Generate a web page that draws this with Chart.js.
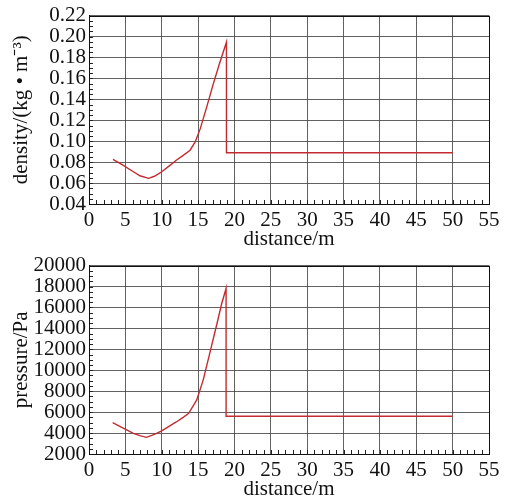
<!DOCTYPE html>
<html>
<head>
<meta charset="utf-8">
<script src="https://cdn.jsdelivr.net/npm/chart.js@4/dist/chart.umd.min.js"></script>
<style>
html,body{margin:0;padding:0;background:#fff;overflow:hidden;width:505px;height:497px;}
#w1{position:absolute;left:0;top:0;width:505px;height:250px;}
#w2{position:absolute;left:0;top:250px;width:505px;height:250px;}
</style>
</head>
<body>
<div id="w1"><canvas id="c1"></canvas></div>
<div id="w2"><canvas id="c2"></canvas></div>
<script>
// ---- data ----
const densityX = [3.3, 4.5, 6.1, 7.0, 8.2, 9.0, 10.0, 11.0, 12.0, 13.0, 13.9, 14.6, 15.3, 16.2, 17.1, 18.0, 18.9, 18.9, 50.0];
const densityY = [0.0826, 0.0778, 0.0708, 0.0670, 0.0645, 0.0665, 0.0708, 0.0762, 0.0818, 0.0867, 0.0914, 0.0993, 0.112, 0.133, 0.155, 0.1755, 0.1946, 0.0889, 0.0889];
const pressureX = [3.26, 4.5, 6.1, 7.0, 7.9, 9.0, 10.0, 11.0, 12.0, 13.0, 13.7, 14.8, 15.7, 16.6, 17.6, 18.25, 18.85, 18.85, 50.0];
const pressureY = [4990, 4550, 3975, 3750, 3590, 3880, 4220, 4640, 5060, 5530, 5880, 7150, 9060, 11610, 14470, 16380, 17810, 5600, 5600];
const xTicks = [0, 5, 10, 15, 20, 25, 30, 35, 40, 45, 50, 55];
const densityTicks = [0.04, 0.06, 0.08, 0.10, 0.12, 0.14, 0.16, 0.18, 0.20, 0.22];
const pressureTicks = [2000, 4000, 6000, 8000, 10000, 12000, 14000, 16000, 18000, 20000];

const FONT = "'Liberation Serif','Times New Roman',serif";
const LINE = '#c42a2f';
const GRID = 'rgba(70,70,70,0.85)';

const frame = {
  id: 'frame',
  afterDraw(chart) {
    const ctx = chart.ctx, a = chart.chartArea;
    const xs = chart.scales.x, ys = chart.scales.y;
    const n = ys.options.ticksList.length - 1;
    ctx.save();
    ctx.strokeStyle = '#222';
    ctx.lineWidth = 1;
    ctx.beginPath();
    for (let v = xs.min; v <= xs.max + 1e-9; v += 1) {
      const px = Math.round(xs.getPixelForValue(v)) + 0.5;
      ctx.moveTo(px, a.bottom);
      ctx.lineTo(px, a.bottom - 4);
    }
    const yStep = (ys.max - ys.min) / (n * 4);
    for (let i = 0; i <= n * 4; i++) {
      const py = Math.round(ys.getPixelForValue(ys.min + i * yStep)) + 0.5;
      ctx.moveTo(a.left, py);
      ctx.lineTo(a.left + 4, py);
    }
    ctx.stroke();
    ctx.strokeStyle = '#111';
    ctx.strokeRect(Math.round(a.left) + 0.5, Math.round(a.top) + 0.5, Math.round(a.right - a.left), Math.round(a.bottom - a.top));
    ctx.restore();
  }
};

function makeChart(id, xs, ys, yTicks, yTitle) {
  const pts = xs.map((x, i) => ({x: x, y: ys[i]}));
  return new Chart(document.getElementById(id), {
    type: 'scatter',
    data: {datasets: [{data: pts, showLine: true, borderColor: LINE, borderWidth: 1.4, pointRadius: 0, tension: 0, fill: false}]},
    options: {
      responsive: true, maintainAspectRatio: false, animation: false,
      layout: {padding: {top: 15, right: 16, left: 0, bottom: 0}},
      plugins: {legend: {display: false}, tooltip: {enabled: false}},
      scales: {
        x: {
          type: 'linear', min: xTicks[0], max: xTicks[xTicks.length - 1],
          afterBuildTicks: s => { s.ticks = xTicks.map(v => ({value: v})); },
          afterFit: s => { s.height = 46; },
          grid: {color: GRID, lineWidth: 1, drawTicks: false},
          border: {display: true, color: '#111'},
          ticks: {color: '#111', font: {family: FONT, size: 21}, padding: 4, maxRotation: 0, autoSkip: false},
          title: {display: true, text: 'distance/m', color: '#111', font: {family: FONT, size: 21, lineHeight: 1.0}, padding: {top: 0, bottom: 0}}
        },
        y: {
          type: 'linear', min: yTicks[0], max: yTicks[yTicks.length - 1],
          ticksList: yTicks,
          afterBuildTicks: s => { s.ticks = yTicks.map(v => ({value: v})); },
          afterFit: s => { s.width = 89; },
          grid: {color: GRID, lineWidth: 1, drawTicks: false},
          border: {display: true, color: '#111'},
          ticks: {color: '#111', font: {family: FONT, size: 21}, padding: 3, autoSkip: false,
                  callback: v => (yTicks[0] < 1 ? v.toFixed(2) : String(v))},
          title: {display: true, text: yTitle, color: '#111', font: {family: FONT, size: 21, lineHeight: 1.0}, padding: {top: 11, bottom: 0}}
        }
      }
    },
    plugins: [frame]
  });
}

makeChart('c1', densityX, densityY, densityTicks, 'density/(kg • m⁻³)');
makeChart('c2', pressureX, pressureY, pressureTicks, 'pressure/Pa');
</script>
</body>
</html>
